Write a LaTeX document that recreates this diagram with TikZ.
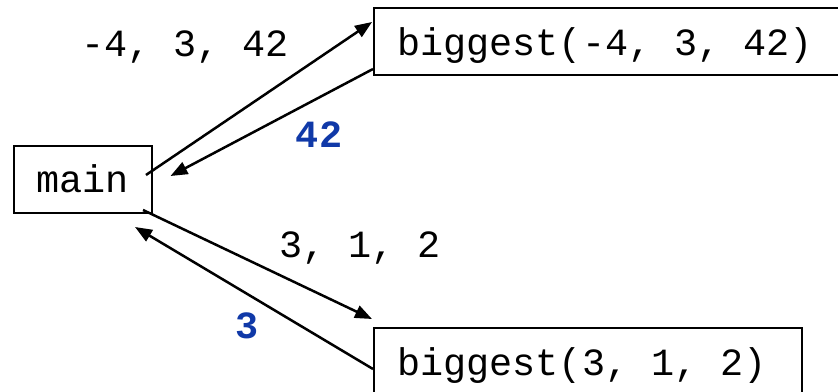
\documentclass[tikz,border=0pt]{standalone}
\usepackage{fontspec}
\setmonofont{Liberation Mono}
\usetikzlibrary{arrows.meta}
\definecolor{retblue}{RGB}{16,57,168}
\newcommand\codefont{\fontsize{38.5}{40}\selectfont\ttfamily}
\begin{document}
\begin{tikzpicture}[x=1pt,y=-1pt,
  box/.style={draw,line width=2pt,inner sep=0pt,outer sep=0pt},
  code/.style={font=\codefont,inner sep=0pt,anchor=base west},
  arg/.style={font=\codefont,inner sep=0pt,anchor=base},
  ret/.style={font=\codefont\bfseries,text=retblue,inner sep=0pt,anchor=base},
  call/.style={line width=2.5pt,-{Triangle[length=17pt,width=13pt]}}]
\useasboundingbox (0,0) rectangle (838,391);
\clip (0,0) rectangle (838,391);
% function boxes (the two call boxes run past the edge)
\node[box,minimum width=138,minimum height=67,anchor=north west] (main) at (14,146) {};
\node[box,minimum width=480,minimum height=67,anchor=north west] (top) at (374,8) {};
\node[box,minimum width=428,minimum height=80,anchor=north west] (bot) at (374,328) {};
\node[code] (mainlbl) at ([shift={(22,46)}]main.north west) {main};
\node[code] (toplbl) at ([shift={(23,47)}]top.north west) {biggest(-4, 3, 42)};
\node[code] (botlbl) at ([shift={(23,47)}]bot.north west) {biggest(3, 1, 2)};
% calls and returns
\draw[call] ([shift={(-6,-4.5)}]main.east) -- ([shift={(-2,14)}]top.north west);
\draw[call] ([shift={(-1,61)}]top.north west) -- ([shift={(18.5,-3.5)}]main.east);
\draw[call] ([shift={(-9,30.5)}]main.east) -- ([shift={(-2,-9)}]bot.north west);
\draw[call] ([shift={(-1,41)}]bot.north west) -- ([shift={(-17,47.5)}]main.east);
% argument and result labels
\node[arg] (a1) at (185,56.5) {-4, 3, 42};
\node[ret] (r1) at (319,147) {42};
\node[arg] (a2) at (360,257) {3, 1, 2};
\node[ret] (r2) at (247,338) {3};
\end{tikzpicture}
\end{document}
